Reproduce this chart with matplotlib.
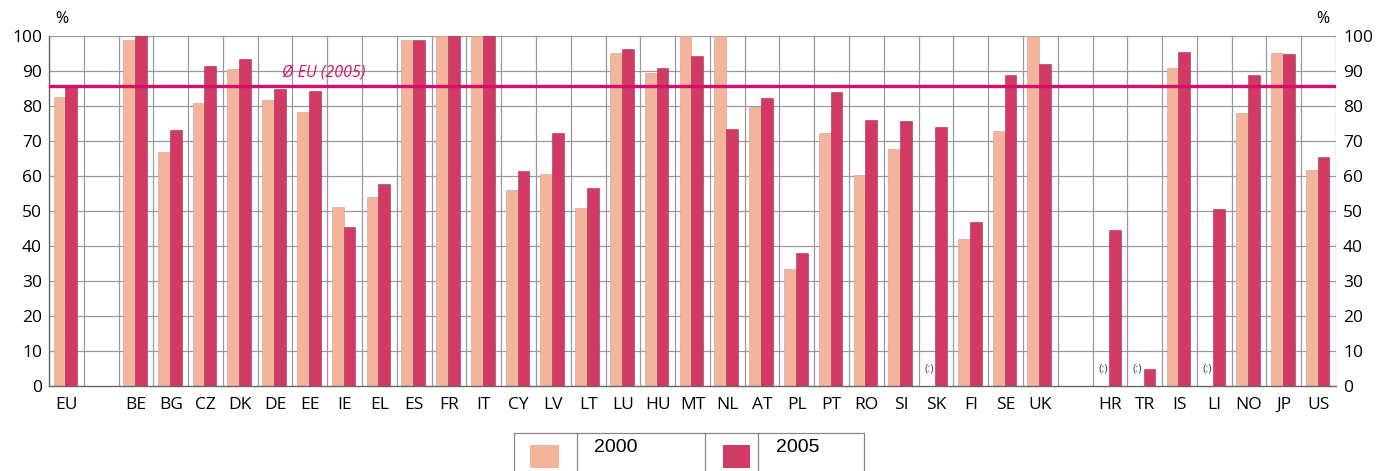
import numpy as np
import matplotlib
matplotlib.use('Agg')
import matplotlib.pyplot as plt
from matplotlib.patches import Rectangle
from matplotlib.lines import Line2D

plt.rcParams['font.family'] = ['Open Sans', 'DejaVu Sans']

# 데이터 (빈 문자열 = 빈 칸, None = 자료 없음 "(:)")
countries = ['EU', '',
             'BE', 'BG', 'CZ', 'DK', 'DE', 'EE', 'IE', 'EL', 'ES', 'FR', 'IT',
             'CY', 'LV', 'LT', 'LU', 'HU', 'MT', 'NL', 'AT', 'PL', 'PT', 'RO',
             'SI', 'SK', 'FI', 'SE', 'UK', '',
             'HR', 'TR', 'IS', 'LI', 'NO', 'JP', 'US']
v2000 = [82.7, None,
         99.0, 67.0, 81.0, 90.7, 81.6, 78.4, 51.1, 53.9, 99.0, 100, 100,
         55.9, 60.6, 50.9, 95.1, 89.5, 100, 100, 79.7, 33.3, 72.4, 60.4,
         67.8, None, 42.0, 72.9, 100, None,
         None, None, 91.0, None, 78.1, 95.1, 61.8]
v2005 = [85.7, None,
         100, 73.2, 91.4, 93.3, 84.8, 84.2, 45.3, 57.8, 99.0, 100, 100,
         61.3, 72.2, 56.6, 96.2, 90.8, 94.4, 73.4, 82.4, 38.0, 83.9, 76.0,
         75.8, 73.9, 46.8, 88.9, 91.9, None,
         44.7, 4.9, 95.3, 50.6, 88.9, 94.8, 65.3]
eu_avg_2005 = 85.6

C2000 = '#f4b39b'
C2005 = '#d03a63'
CLINE = '#d4106c'
GRID = '#9a9a9a'

fig = plt.figure(figsize=(13.85, 4.71), dpi=100)
ax = fig.add_axes([49/1385, 1-386/471, (1336-49)/1385, 350/471])

n = len(countries)
x = np.arange(n)
w = 0.34
for i in range(n):
    if countries[i] == '':
        continue
    if v2000[i] is not None:
        ax.bar(x[i] - 0.2, v2000[i], width=w, color=C2000, edgecolor='#c9a090', lw=0.4, zorder=2)
    else:
        ax.text(x[i] - 0.2, 4.8, '(:)', fontsize=8, color='#444444', ha='center', va='center', zorder=3)
    if v2005[i] is not None:
        ax.bar(x[i] + 0.14, v2005[i], width=w, color=C2005, edgecolor='#a83050', lw=0.4, zorder=2)

ax.set_xlim(-0.5, n - 0.5)
ax.set_ylim(0, 100)

# 격자
for b in np.arange(-0.5, n, 1.0):
    ax.axvline(b, color=GRID, lw=0.9, zorder=1)
for yv in range(10, 101, 10):
    ax.axhline(yv, color=GRID, lw=0.9, zorder=1)

# EU 평균선
ax.axhline(eu_avg_2005, color=CLINE, lw=2.4, zorder=4)
ax.text(7.4, 89.6, 'Ø EU (2005)', color=CLINE, fontsize=11.5, style='italic',
        ha='center', va='center', zorder=4)

ax.set_xticks(x)
ax.set_xticklabels(countries, fontsize=12.5)
ax.set_yticks(range(0, 101, 10))
ax.tick_params(axis='both', length=0, labelsize=12.5)
ax.tick_params(axis='x', pad=8)
ax.tick_params(axis='y', pad=5, labelright=True)
for s in ['top', 'right']:
    ax.spines[s].set_visible(False)
ax.spines['left'].set_color('#666666')
ax.spines['bottom'].set_color('#666666')
ax.spines['left'].set_linewidth(1.0)
ax.spines['bottom'].set_linewidth(1.0)

fig.text(62/1385, 1-19/471, '%', fontsize=11.5, ha='center', va='center')
fig.text(1323/1385, 1-19/471, '%', fontsize=11.5, ha='center', va='center')

# 범례 (표 형태)
def fx(px):
    return px / 1385
def fy(py):
    return 1 - py / 471
edge = '#888888'
fig.add_artist(Line2D([fx(514), fx(864)], [fy(433), fy(433)], color=edge, lw=0.9))
for xb in [514, 577, 705, 758, 864]:
    fig.add_artist(Line2D([fx(xb), fx(xb)], [fy(433), fy(471)], color=edge, lw=0.9))
fig.add_artist(Rectangle((fx(530), fy(468)), fx(559) - fx(530), fy(445) - fy(468),
                         facecolor=C2000, edgecolor='none'))
fig.add_artist(Rectangle((fx(723), fy(468)), fx(750) - fx(723), fy(445) - fy(468),
                         facecolor=C2005, edgecolor='none'))
fig.text(fx(594), fy(448), '2000', fontsize=14, family='Liberation Sans', va='center')
fig.text(fx(776), fy(448), '2005', fontsize=14, family='Liberation Sans', va='center')

plt.savefig('out.png', dpi=100)
